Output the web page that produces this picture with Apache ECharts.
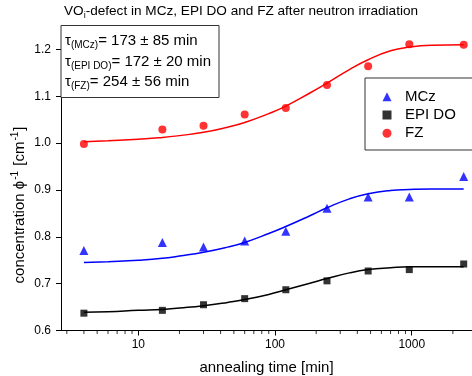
<!DOCTYPE html>
<html>
<head>
<meta charset="utf-8">
<script src="https://cdn.jsdelivr.net/npm/echarts@6/dist/echarts.min.js"></script>
<style>
  html, body { margin: 0; padding: 0; background: #fff; }
  #chart { width: 472px; height: 376px; }
</style>
</head>
<body>
<div id="chart"></div>
<script>
// measured points
const times = [4, 15, 30, 60, 120, 240, 480, 960, 2400];
const mczValues = [0.771, 0.788, 0.778, 0.791, 0.812, 0.861, 0.885, 0.885, 0.929];
const epiValues = [0.637, 0.643, 0.655, 0.668, 0.687, 0.706, 0.727, 0.730, 0.742];
const fzValues = [0.998, 1.029, 1.037, 1.061, 1.075, 1.124, 1.164, 1.211, 1.210];

// fit curves
const fitTimes = [4, 6, 10, 15, 20, 30, 45, 60, 90, 120, 180, 240, 350, 480, 700, 960, 1400, 2400];
const mczFit = [0.745, 0.747, 0.750, 0.754, 0.759, 0.767, 0.778, 0.788, 0.807, 0.822, 0.845, 0.862, 0.881, 0.892, 0.899, 0.901, 0.902, 0.902];
const epiFit = [0.639, 0.640, 0.643, 0.645, 0.648, 0.653, 0.660, 0.666, 0.677, 0.687, 0.701, 0.711, 0.723, 0.730, 0.734, 0.736, 0.736, 0.736];
const fzFit = [1.003, 1.005, 1.008, 1.012, 1.016, 1.023, 1.034, 1.044, 1.063, 1.079, 1.107, 1.128, 1.157, 1.178, 1.197, 1.205, 1.209, 1.210];

const xTickValues = [10, 100, 1000];
const xMinorTicks = [3, 4, 5, 6, 7, 8, 9, 20, 30, 40, 50, 60, 70, 80, 90, 200, 300, 400, 500, 600, 700, 800, 900, 2000];
const yTickValues = [0.6, 0.7, 0.8, 0.9, 1.0, 1.1, 1.2];

const font = '"Liberation Sans", Arial, sans-serif';
const pairs = (xs, ys) => xs.map((x, i) => [x, ys[i]]);

// rich text styles for sub/superscripts
const subRich = {
  n: {fontSize: 15, lineHeight: 17, verticalAlign: 'top', fontFamily: font, color: '#000'},
  s: {fontSize: 10, lineHeight: 11, verticalAlign: 'bottom', padding: [9, 0, 0, 0], fontFamily: font, color: '#000'}
};
const titleRich = {
  n: {fontSize: 13.6, lineHeight: 16, verticalAlign: 'top', fontFamily: font, color: '#000'},
  s: {fontSize: 9, lineHeight: 10, verticalAlign: 'bottom', padding: [9, 0, 0, 0], fontFamily: font, color: '#000'}
};
const supRich = {
  n: {fontSize: 15, lineHeight: 17, verticalAlign: 'bottom', padding: [4, 0, 0, 0], fontFamily: font, color: '#000'},
  p: {fontSize: 10, lineHeight: 11, verticalAlign: 'top', padding: [0, 1, 0, 1], fontFamily: font, color: '#000'}
};

const chart = echarts.init(document.getElementById('chart'));
chart.setOption({
  animation: false,
  textStyle: {fontFamily: font},
  title: {
    text: '{n|VO}{s|i}{n|-defect in MCz, EPI DO and FZ after neutron irradiation}',
    left: 64, top: 4, padding: 0,
    textStyle: {fontSize: 13.6, fontWeight: 'normal', color: '#000', rich: titleRich}
  },
  grid: {left: 61, right: 0, top: 26, bottom: 45.5, outerBoundsMode: 'none', containLabel: false},
  legend: {
    data: [{name: 'MCz', icon: 'triangle'}, {name: 'EPI DO', icon: 'rect'}, {name: 'FZ', icon: 'circle'}],
    orient: 'vertical',
    left: 365, top: 78,
    padding: [9.7, 120, 7.7, 17.5],
    itemWidth: 9, itemHeight: 9, itemGap: 0.3,
    borderColor: '#333', borderWidth: 1, backgroundColor: '#fff',
    textStyle: {fontSize: 15, color: '#000', lineHeight: 18, padding: [0, 0, 0, 8.5]}
  },
  xAxis: {
    type: 'log', logBase: 10, min: 2.72, max: 2760,
    name: 'annealing time [min]', nameLocation: 'middle', nameGap: 30,
    nameTextStyle: {fontSize: 15, color: '#000'},
    axisLine: {lineStyle: {color: '#000', width: 1}},
    axisTick: {length: 5, customValues: xTickValues, lineStyle: {color: '#000'}},
    axisLabel: {fontSize: 12, color: '#000', margin: 8, customValues: xTickValues, formatter: v => String(v)},
    splitLine: {show: false}
  },
  yAxis: {
    type: 'value', min: 0.6, max: 1.25, interval: 0.1,
    axisLine: {show: true, lineStyle: {color: '#000', width: 1}},
    axisTick: {show: true, length: 5, customValues: yTickValues, lineStyle: {color: '#000'}},
    axisLabel: {
      fontSize: 12, color: '#000', margin: 10, customValues: yTickValues,
      formatter: v => v.toFixed(1)
    },
    splitLine: {show: false}
  },
  series: [
    {name: 'MCz', type: 'scatter', symbol: 'triangle', symbolSize: 9, itemStyle: {color: '#0000ff'}, data: pairs(times, mczValues), z: 5},
    {name: 'EPI DO', type: 'scatter', symbol: 'rect', symbolSize: 7, itemStyle: {color: '#000'}, data: pairs(times, epiValues), z: 5},
    {name: 'FZ', type: 'scatter', symbol: 'circle', symbolSize: 8, itemStyle: {color: '#ff0000'}, data: pairs(times, fzValues), z: 5},
    ...[[mczFit, '#0000ff'], [epiFit, '#000'], [fzFit, '#ff0000']].map(([ys, c]) => ({
      type: 'line', smooth: true, showSymbol: false, silent: true,
      lineStyle: {color: c, width: 1.5},
      data: pairs(fitTimes, ys)
    })),
    {
      // minor ticks on the log axis
      type: 'scatter', silent: true, clip: false,
      symbol: 'rect', symbolSize: [1, 3], symbolOffset: [0, 2],
      itemStyle: {color: '#000'},
      data: xMinorTicks.map(t => [t, 0.6])
    }
  ],
  graphic: [
    {
      type: 'rect', z: 100,
      shape: {x: 61, y: 25.5, width: 158, height: 72},
      style: {fill: '#fff', stroke: '#333', lineWidth: 1}
    },
    {
      type: 'text', z: 101, x: 65, y: 33,
      style: {text: '{n|τ}{s|(MCz)}{n|= 173 ± 85 min}', rich: subRich, verticalAlign: 'top'}
    },
    {
      type: 'text', z: 101, x: 65, y: 54,
      style: {text: '{n|τ}{s|(EPI DO)}{n|= 172 ± 20 min}', rich: subRich, verticalAlign: 'top'}
    },
    {
      type: 'text', z: 101, x: 19, y: 74.6,
      style: {text: '', rich: subRich, verticalAlign: 'top'}
    },
    {
      type: 'text', z: 101, x: 65, y: 74.6,
      style: {text: '{n|τ}{s|(FZ)}{n|= 254 ± 56 min}', rich: subRich, verticalAlign: 'top'}
    },
    {
      type: 'text', z: 101, x: 19, y: 205, rotation: Math.PI / 2,
      style: {
        text: '{n|concentration ϕ}{p|-1}{n| [cm}{p|-1}{n|]}',
        rich: supRich, align: 'center', verticalAlign: 'middle'
      }
    }
  ]
});
</script>
</body>
</html>
